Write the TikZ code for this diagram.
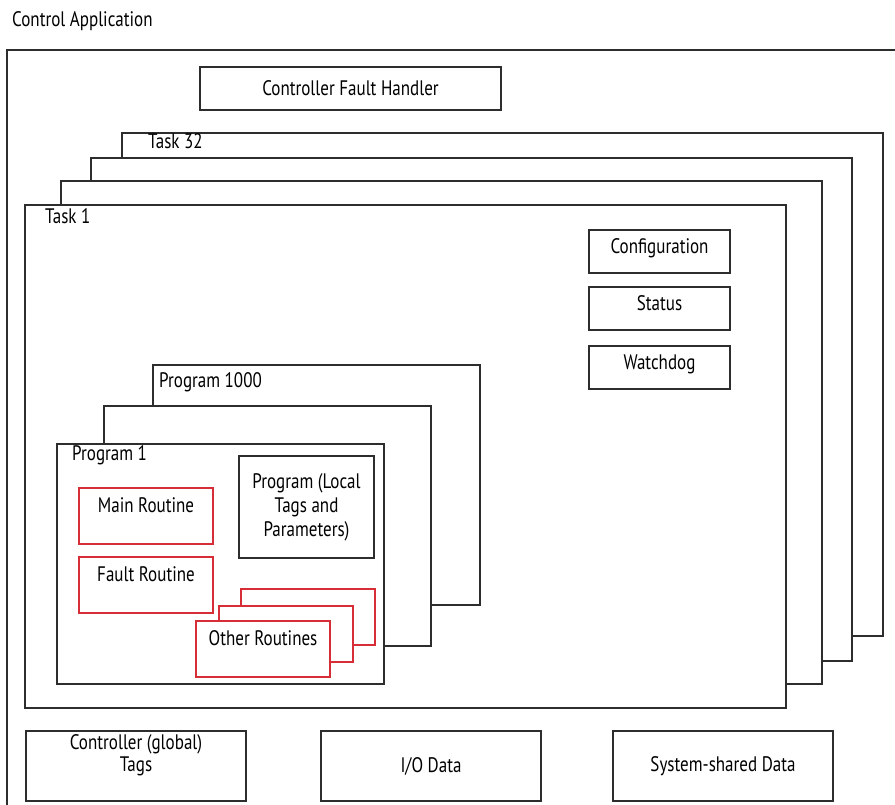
\documentclass[tikz,border=0pt]{standalone}
\usepackage{fontspec}
\setmainfont{PT Sans}[FakeStretch=0.81]
\usetikzlibrary{positioning}
\definecolor{framegray}{RGB}{45, 45, 45}
\definecolor{routred}{RGB}{215, 45, 55}

\begin{document}
\begin{tikzpicture}[
  x=1pt, y=-1pt,
  font=\fontsize{21}{22}\selectfont,
  frame/.style={draw=framegray, fill=white, line width=1.2pt, anchor=north west, inner sep=0pt, outer sep=0pt},
  taskbox/.style={frame, minimum width=761pt, minimum height=503pt},
  progbox/.style={frame, minimum width=327pt, minimum height=240pt},
  infobox/.style={frame, minimum width=141pt, text height=24pt, text depth=19pt},
  routbox/.style={frame, draw=routred, minimum width=134pt, text height=24pt, text depth=32pt},
  databox/.style={frame, minimum width=220pt, minimum height=70pt, align=center},
  tag/.style={anchor=base west, inner sep=0pt}
]
  \useasboundingbox (0,0) rectangle (895,805);

  \node[tag] (apptitle) at (12,27) {Control Application};
  \draw[framegray, line width=1.2pt] (7,805) |- (895,50);

  \node[frame, minimum width=301pt, minimum height=43pt] (faulthandler) at (200,67) {Controller Fault Handler};

  \node[taskbox] (task32) at (122,133) {};
  \node[tag] (task32lbl) at ([shift={(26,16)}]task32.north west) {Task 32};
  \node[taskbox] (task3) at (91,158) {};
  \node[taskbox] (task2) at (61,181) {};
  \node[taskbox] (task1) at (25,205) {};
  \node[tag] (task1lbl) at ([shift={(20,19)}]task1.north west) {Task 1};

  \node[infobox] (config) at (589,230) {Configuration};
  \node[infobox] (status) at (589,287) {Status};
  \node[infobox] (watchdog) at (589,346) {Watchdog};

  \node[progbox] (prog1000) at (153,365) {};
  \node[tag] (prog1000lbl) at ([shift={(6,22)}]prog1000.north west) {Program 1000};
  \node[progbox] (prog2) at (104,406) {};
  \node[progbox] (prog1) at (57,444) {};
  \node[tag] (prog1lbl) at ([shift={(15,16)}]prog1.north west) {Program 1};

  \node[frame, minimum width=135pt, minimum height=102pt, align=center] (localtags) at (239,456)
    {Program (Local\\[2pt]Tags and\\[2pt]Parameters)};

  \node[routbox] (mainrout) at (79,488) {Main Routine};
  \node[routbox] (faultrout) at (79,557) {Fault Routine};
  \node[routbox] (otherrout3) at (241,589) {};
  \node[routbox] (otherrout2) at (219,606) {};
  \node[routbox] (otherrout1) at (196,621) {Other Routines};

  \node[databox] (globaltags) at (26,731) {Controller (global)\\Tags\\[4pt]};
  \node[databox] (iodata) at (321,731) {I/O Data};
  \node[databox] (shareddata) at (613,731) {System-shared Data};
\end{tikzpicture}
\end{document}
